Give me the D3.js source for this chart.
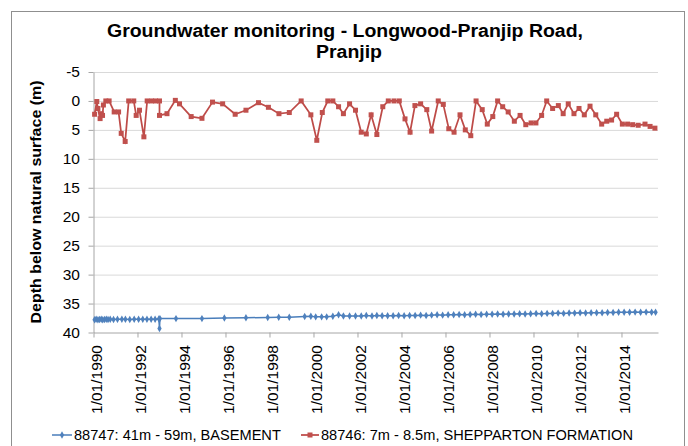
<!DOCTYPE html>
<html>
<head>
<meta charset="utf-8">
<script src="https://cdn.jsdelivr.net/npm/d3@7"></script>
<style>
  body { margin: 0; background: #fff; }
  svg { display: block; font-family: "Liberation Sans", Arial, sans-serif; }
</style>
</head>
<body>
<script>
// bore 88747 (basement), decimal years and depth (m)
const blueYears = [1990.05, 1990.12, 1990.2, 1990.27, 1990.35, 1990.42, 1990.5, 1990.58, 1990.66, 1990.76,
  1990.91, 1991.09, 1991.29, 1991.45, 1991.65, 1991.85, 1992.05, 1992.24, 1992.43, 1992.62, 1992.8,
  1992.97, 1993.0, 1993.02, 1993.75, 1994.93, 1995.95, 1996.93, 1997.92, 1998.42, 1998.9,
  1999.6, 1999.88, 2000.1, 2000.37, 2000.6, 2000.88, 2001.14, 2001.36, 2001.64, 2001.91, 2002.17, 2002.4, 2002.66, 2002.88,
  2003.12, 2003.37, 2003.62, 2003.87, 2004.12, 2004.37, 2004.62, 2004.87, 2005.12, 2005.37, 2005.62, 2005.87,
  2006.12, 2006.37, 2006.62, 2006.87, 2007.12, 2007.37, 2007.62, 2007.87, 2008.12, 2008.37, 2008.62, 2008.87,
  2009.12, 2009.37, 2009.62, 2009.87, 2010.12, 2010.37, 2010.62, 2010.87, 2011.12, 2011.37, 2011.62, 2011.87,
  2012.12, 2012.37, 2012.62, 2012.87, 2013.12, 2013.37, 2013.62, 2013.87, 2014.12, 2014.37, 2014.62, 2014.87,
  2015.12, 2015.37, 2015.55];
const blueDepths = [37.8, 37.7, 37.8, 37.75, 37.7, 37.8, 37.75, 37.7, 37.75, 37.7,
  37.75, 37.7, 37.7, 37.7, 37.75, 37.7, 37.7, 37.7, 37.7, 37.7, 37.7,
  37.65, 39.3, 37.6, 37.6, 37.6, 37.5, 37.45, 37.4, 37.35, 37.35,
  37.25, 37.2, 37.3, 37.3, 37.3, 37.2, 36.95, 37.15, 37.15, 37.15, 37.15, 37.05, 37.15, 37.05,
  37.1, 37.1, 37.1, 37.05, 37.1, 37.05, 37.05, 37.0, 37.05, 37.0, 36.95, 37.0,
  36.95, 36.95, 36.9, 36.95, 36.9, 36.85, 36.9, 36.85, 36.85, 36.8, 36.85, 36.8,
  36.8, 36.75, 36.8, 36.75, 36.72, 36.75, 36.7, 36.7, 36.65, 36.7, 36.62, 36.65,
  36.6, 36.62, 36.6, 36.58, 36.6, 36.55, 36.55, 36.5, 36.5, 36.5, 36.48, 36.5,
  36.48, 36.5, 36.5];

// bore 88746 (Shepparton formation)
const redYears = [1990.05, 1990.15, 1990.2, 1990.3, 1990.35, 1990.41, 1990.45, 1990.56, 1990.71, 1990.94,
  1991.14, 1991.26, 1991.44, 1991.6, 1991.83, 1991.94, 1992.09, 1992.29, 1992.44, 1992.64, 1992.82,
  1993.0, 1993.0, 1993.34, 1993.72, 1993.91, 1994.44, 1994.93, 1995.41, 1995.87, 1996.44, 1996.93,
  1997.5, 1997.95, 1998.43, 1998.9, 1999.44, 1999.88, 2000.15, 2000.4, 2000.65, 2000.88, 2001.14,
  2001.36, 2001.64, 2001.91, 2002.17, 2002.4, 2002.62, 2002.88, 2003.15, 2003.4, 2003.66, 2003.9,
  2004.16, 2004.39, 2004.61, 2004.87, 2005.15, 2005.37, 2005.67, 2005.9, 2006.15, 2006.39, 2006.66,
  2006.9, 2007.15, 2007.39, 2007.67, 2007.9, 2008.15, 2008.37, 2008.6, 2008.85, 2009.13, 2009.39,
  2009.65, 2009.89, 2010.11, 2010.37, 2010.6, 2010.87, 2011.13, 2011.35, 2011.58, 2011.84, 2012.07,
  2012.31, 2012.57, 2012.83, 2013.1, 2013.33, 2013.55, 2013.78, 2014.04, 2014.28, 2014.51, 2014.76,
  2015.07, 2015.3, 2015.52];
const redDepths = [2.3, 0.1, 1.3, 3.05, 2.2, 2.5, 0.7, 0.0, 0.0, 1.9,
  1.9, 5.6, 7.0, 0.0, 0.0, 2.5, 1.6, 6.2, 0.0, 0.0, 0.0,
  0.0, 2.5, 2.2, -0.1, 0.5, 2.7, 3.0, 0.2, 0.5, 2.3, 1.6,
  0.3, 1.1, 2.2, 2.0, 0.0, 2.4, 6.8, 2.0, 0.0, 0.0, 1.0,
  2.2, 0.5, 1.6, 5.4, 5.7, 2.4, 5.8, 1.0, 0.0, 0.0, 0.0,
  3.1, 5.4, 0.8, 0.5, 1.5, 5.2, 0.0, 0.6, 4.8, 5.4, 2.4,
  5.0, 6.0, 0.0, 1.5, 4.0, 2.7, 0.0, 1.0, 1.9, 3.5, 2.5,
  4.1, 3.8, 3.8, 2.5, 0.0, 1.3, 0.8, 2.2, 0.5, 2.2, 1.3,
  2.4, 0.9, 2.4, 4.0, 3.5, 3.3, 2.3, 4.0, 4.0, 4.1, 4.2,
  4.0, 4.4, 4.7];

const xTickYears = [1990, 1992, 1994, 1996, 1998, 2000, 2002, 2004, 2006, 2008, 2010, 2012, 2014];
const yTicks = [-5, 0, 5, 10, 15, 20, 25, 30, 35, 40];
const seriesNames = ["88747: 41m - 59m, BASEMENT", "88746: 7m - 8.5m, SHEPPARTON FORMATION"];
const titleLines = ["Groundwater monitoring - Longwood-Pranjip Road,", "Pranjip"];
const yTitle = "Depth below natural surface (m)";

const width = 688, height = 446;
const margin = {top: 72, right: 30, bottom: 113.5, left: 93.5};
const blueLine = "#4A7EBB", blueMark = "#4F81BD";
const redLine = "#BE4B48", redMark = "#C0504D";

const svg = d3.select("body").append("svg")
  .attr("width", width)
  .attr("height", height);

// outer chart frame
svg.append("rect")
  .attr("x", 11.5).attr("y", 11.5)
  .attr("width", 673).attr("height", 470)
  .attr("fill", "none")
  .attr("stroke", "#8f8f8f");

let x = d3.scaleLinear()
  .domain([1990, 2015.66])
  .range([margin.left, width - margin.right]);

let y = d3.scaleLinear()
  .domain([-5, 40])
  .range([margin.top, height - margin.bottom]);

// title
svg.append("text")
  .attr("x", 345).attr("y", 37)
  .attr("text-anchor", "middle")
  .style("font-size", "18px").style("font-weight", "bold")
  .attr("textLength", 476).attr("lengthAdjust", "spacingAndGlyphs")
  .text(titleLines[0]);
svg.append("text")
  .attr("x", 349).attr("y", 57.5)
  .attr("text-anchor", "middle")
  .style("font-size", "18px").style("font-weight", "bold")
  .attr("textLength", 66).attr("lengthAdjust", "spacingAndGlyphs")
  .text(titleLines[1]);

// gridlines
svg.append("g")
  .attr("transform", `translate(${margin.left},0)`)
  .call(d3.axisLeft(y).tickValues(yTicks.slice(0, -1))
    .tickSize(-(width - margin.right - margin.left)).tickFormat(""))
  .call(g => g.select(".domain").remove())
  .call(g => g.selectAll("line").attr("stroke", "#d9d9d9"));

// y axis
svg.append("g")
  .attr("transform", `translate(${margin.left},0)`)
  .call(d3.axisLeft(y).tickValues(yTicks).tickSize(5).tickPadding(8.5).tickSizeOuter(0)
    .tickFormat(d => String(d)))
  .call(g => g.select(".domain").attr("stroke", "#a6a6a6"))
  .call(g => g.selectAll("line").attr("stroke", "#a6a6a6"))
  .call(g => g.selectAll("text").style("font-size", "15.5px").attr("fill", "#000")
    .style("font-family", "'Liberation Sans', Arial, sans-serif"));

// x axis
svg.append("g")
  .attr("transform", `translate(0,${height - margin.bottom})`)
  .call(d3.axisBottom(x).tickValues(xTickYears).tickSize(5).tickSizeOuter(0)
    .tickFormat(d => "1/01/" + d))
  .call(g => g.select(".domain").attr("stroke", "#a6a6a6"))
  .call(g => g.selectAll("line").attr("stroke", "#a6a6a6"))
  .call(g => g.selectAll("text")
    .attr("transform", "rotate(-90)")
    .attr("x", -12.5).attr("y", 2.5).attr("dy", "0.35em")
    .style("text-anchor", "end")
    .style("font-size", "15.5px").attr("fill", "#000")
    .style("font-family", "'Liberation Sans', Arial, sans-serif"));

// y axis title
svg.append("text")
  .attr("transform", "translate(36,202) rotate(-90)")
  .attr("text-anchor", "middle").attr("dy", "0.35em")
  .style("font-size", "15px").style("font-weight", "bold")
  .attr("textLength", 243).attr("lengthAdjust", "spacingAndGlyphs")
  .text(yTitle);

const blueData = blueYears.map((d, i) => ({x: d, y: blueDepths[i]}));
const redData = redYears.map((d, i) => ({x: d, y: redDepths[i]}));

let line = d3.line().x(d => x(d.x)).y(d => y(d.y));
const diamond = d3.symbol().type(d3.symbolDiamond).size(16);

// basement series
svg.append("path")
  .datum(blueData)
  .attr("fill", "none")
  .attr("stroke", blueLine)
  .attr("stroke-width", 1.5)
  .attr("d", line);
svg.append("g")
  .selectAll("path")
  .data(blueData)
  .enter().append("path")
    .attr("transform", d => `translate(${x(d.x)},${y(d.y)})`)
    .attr("d", diamond)
    .attr("fill", blueMark);

// shepparton series
svg.append("path")
  .datum(redData)
  .attr("fill", "none")
  .attr("stroke", redLine)
  .attr("stroke-width", 1.75)
  .attr("d", line);
svg.append("g")
  .selectAll("rect")
  .data(redData)
  .enter().append("rect")
    .attr("x", d => x(d.x) - 2.5)
    .attr("y", d => y(d.y) - 2.5)
    .attr("width", 5).attr("height", 5)
    .attr("fill", redMark);

// legend
const legend = svg.append("g").style("font-size", "14.6px");
legend.append("line")
  .attr("x1", 52).attr("x2", 72).attr("y1", 435).attr("y2", 435)
  .attr("stroke", blueLine).attr("stroke-width", 1.5);
legend.append("path")
  .attr("transform", "translate(62,435)")
  .attr("d", diamond).attr("fill", blueMark);
legend.append("text")
  .attr("x", 74).attr("y", 440)
  .text(seriesNames[0]);
legend.append("line")
  .attr("x1", 301).attr("x2", 319).attr("y1", 435).attr("y2", 435)
  .attr("stroke", redLine).attr("stroke-width", 1.75);
legend.append("rect")
  .attr("x", 307.5).attr("y", 432.5).attr("width", 5).attr("height", 5)
  .attr("fill", redMark);
legend.append("text")
  .attr("x", 321).attr("y", 440)
  .text(seriesNames[1]);
</script>
</body>
</html>
